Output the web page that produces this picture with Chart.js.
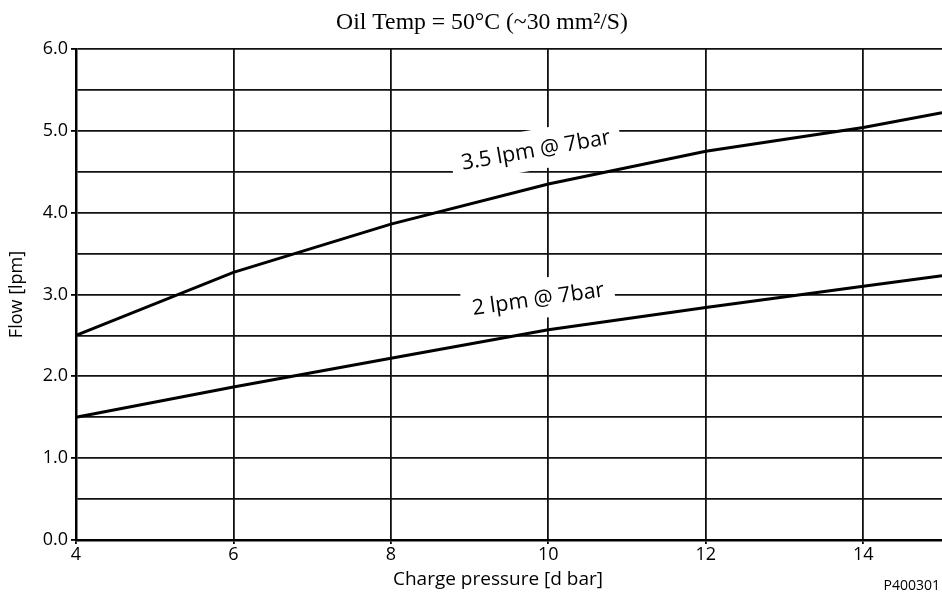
<!DOCTYPE html>
<html>
<head>
<meta charset="utf-8">
<script src="https://cdn.jsdelivr.net/npm/chart.js@4.4.1/dist/chart.umd.min.js"></script>
<style>
  html, body { margin: 0; padding: 0; background: #fff; }
  #wrap { width: 942px; height: 596px; position: relative; }
</style>
</head>
<body>
<div id="wrap"><canvas id="flowChart"></canvas></div>
<script>
// charge pressure [d bar] at the kinks of each curve
const pressure = [4, 6, 8, 10, 12, 14, 15];
// flow [lpm]
const flow35 = [2.5, 3.27, 3.86, 4.35, 4.75, 5.04, 5.22];
const flow2 = [1.5, 1.87, 2.22, 2.57, 2.84, 3.10, 3.23];

const xTicks = [4, 6, 8, 10, 12, 14];
const yTicks = [0, 0.5, 1, 1.5, 2, 2.5, 3, 3.5, 4, 4.5, 5, 5.5, 6];

const titleText = 'Oil Temp = 50°C (~30 mm²/S)';
const xTitle = 'Charge pressure [d bar]';
const yTitle = 'Flow [lpm]';
const figureCode = 'P400301';

// curve labels, anchored in data units
const curveLabels = [
  { text: '3.5 lpm @ 7bar', x: 9.84, y: 4.77, angle: -10 },
  { text: '2 lpm @ 7bar', x: 9.87, y: 2.95, angle: -8 },
];

const SANS = '"Open Sans", "Noto Sans", sans-serif';

const toPoints = (ys) => pressure.map((p, i) => ({ x: p, y: ys[i] }));

const annotatePlugin = {
  id: 'annotate',
  afterDatasetsDraw(chart) {
    const { ctx, scales } = chart;
    ctx.save();
    ctx.font = '21.5px ' + SANS;
    ctx.textAlign = 'center';
    ctx.textBaseline = 'middle';
    curveLabels.forEach((l) => {
      const px = scales.x.getPixelForValue(l.x);
      const py = scales.y.getPixelForValue(l.y);
      const w = ctx.measureText(l.text).width + 20;
      const h = 40;
      ctx.save();
      ctx.translate(px, py);
      ctx.rotate(l.angle * Math.PI / 180);
      ctx.fillStyle = '#fff';
      ctx.fillRect(-w / 2, -h / 2, w, h);
      ctx.fillStyle = '#000';
      ctx.fillText(l.text, 0, 1);
      ctx.restore();
    });
    ctx.restore();
  },
  afterDraw(chart) {
    const { ctx } = chart;
    ctx.save();
    ctx.fillStyle = '#000';
    ctx.textBaseline = 'middle';
    ctx.textAlign = 'center';
    ctx.font = '23.7px "Liberation Serif", "Times New Roman", serif';
    ctx.fillText(titleText, 482, 23);
    ctx.font = '19px ' + SANS;
    ctx.fillText(xTitle, 498, 580);
    ctx.textAlign = 'right';
    ctx.font = '14px ' + SANS;
    ctx.fillText(figureCode, 940, 586);
    ctx.restore();
  },
};

new Chart(document.getElementById('flowChart'), {
  type: 'line',
  data: {
    datasets: [
      { label: '3.5 lpm @ 7bar', data: toPoints(flow35) },
      { label: '2 lpm @ 7bar', data: toPoints(flow2) },
    ].map((d) => ({
      ...d,
      borderColor: '#000',
      borderWidth: 3,
      pointRadius: 0,
      tension: 0,
      fill: false,
      clip: false,
    })),
  },
  options: {
    responsive: true,
    maintainAspectRatio: false,
    animation: false,
    layout: { padding: { top: 49, right: 0, bottom: 0, left: 0 } },
    plugins: {
      legend: { display: false },
      tooltip: { enabled: false },
      title: { display: false },
    },
    scales: {
      x: {
        type: 'linear',
        min: 4,
        max: 15,
        afterBuildTicks: (axis) => { axis.ticks = xTicks.map((v) => ({ value: v })); },
        afterFit: (axis) => { axis.height = 56; },
        border: { color: '#000', width: 2.5 },
        grid: { color: '#111', lineWidth: 1.8, tickLength: 4, tickColor: '#000' },
        ticks: { color: '#000', padding: 0, font: { family: SANS, size: 18 } },
      },
      y: {
        min: 0,
        max: 6,
        afterBuildTicks: (axis) => { axis.ticks = yTicks.map((v) => ({ value: v })); },
        afterFit: (axis) => { axis.width = 76; },
        border: { color: '#000', width: 2.5 },
        grid: {
          color: '#111',
          lineWidth: 1.8,
          tickLength: 5,
          tickColor: (c) => (c.tick && c.tick.value % 1 === 0 ? '#000' : 'rgba(0,0,0,0)'),
        },
        ticks: {
          color: '#000',
          padding: 3,
          font: { family: SANS, size: 18 },
          callback: (v) => (v % 1 === 0 ? v.toFixed(1) : ''),
        },
        title: {
          display: true,
          text: yTitle,
          color: '#000',
          font: { family: SANS, size: 18 },
          padding: { top: 6, bottom: 0 },
        },
      },
    },
  },
  plugins: [annotatePlugin],
});
</script>
</body>
</html>
